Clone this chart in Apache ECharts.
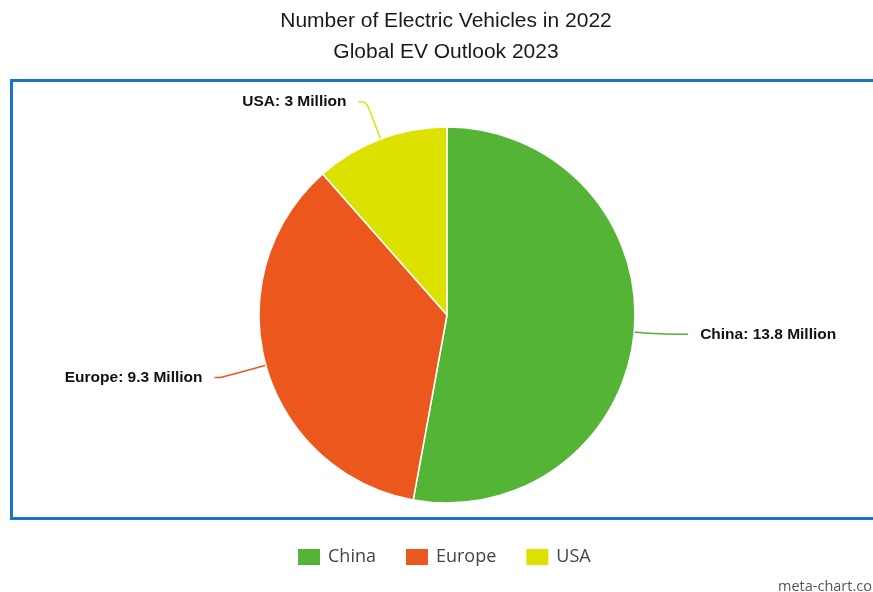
<!DOCTYPE html>
<html>
<head>
<meta charset="utf-8">
<script src="https://cdn.jsdelivr.net/npm/echarts@6/dist/echarts.min.js"></script>
<style>html,body{margin:0;padding:0;background:#fff}#c{width:873px;height:592px}</style>
</head>
<body>
<div id="c"></div>
<script>
var categories = ['China', 'Europe', 'USA'];
var values = [13.8, 9.3, 3];
var colors = ['#53b435', '#ec571e', '#dde100'];
var titleLines = ['Number of Electric Vehicles in 2022', 'Global EV Outlook 2023'];

var lineCfg = [
  { length: 26, length2: 28 },
  { length: 46, length2: 7 },
  { length: 40, length2: 8 }
];

var chart = echarts.init(document.getElementById('c'));
chart.setOption({
  animation: false,
  title: {
    text: titleLines.join('\n'),
    left: 441,
    textAlign: 'center',
    top: 1,
    textStyle: { fontFamily: 'Liberation Sans', fontSize: 21, fontWeight: 'normal', color: '#1a1a1a', lineHeight: 31, align: 'center' }
  },
  graphic: [
    { type: 'rect', shape: { x: 11.5, y: 80.5, width: 880, height: 438 }, style: { fill: 'none', stroke: '#1a73c3', lineWidth: 3 }, silent: true },
    { type: 'text', left: 778, top: 579, style: { text: 'meta-chart.com', font: '500 14.5px "Open Sans"', fill: '#555' } }
  ],
  legend: {
    bottom: 20,
    left: 291,
    itemWidth: 24,
    itemHeight: 18,
    itemGap: 28,
    icon: 'rect',
    textStyle: { fontFamily: 'Open Sans', fontSize: 18, color: '#444', padding: [0, 0, 0, 2] },
    data: categories
  },
  series: [{
    type: 'pie',
    center: [447, 315],
    radius: 188,
    startAngle: 90,
    clockwise: true,
    color: colors,
    itemStyle: { borderColor: '#fff', borderWidth: 1.5 },
    label: {
      formatter: function (p) { return p.name + ': ' + p.value + ' Million'; },
      fontFamily: 'Liberation Sans',
      fontSize: 15.5,
      fontWeight: 'bold',
      color: '#111',
      distanceToLabelLine: 12
    },
    labelLine: { smooth: 0.4, lineStyle: { width: 1.5 } },
    data: categories.map(function (c, i) {
      return { name: c, value: values[i], labelLine: lineCfg[i] };
    })
  }]
});
</script>
</body>
</html>
